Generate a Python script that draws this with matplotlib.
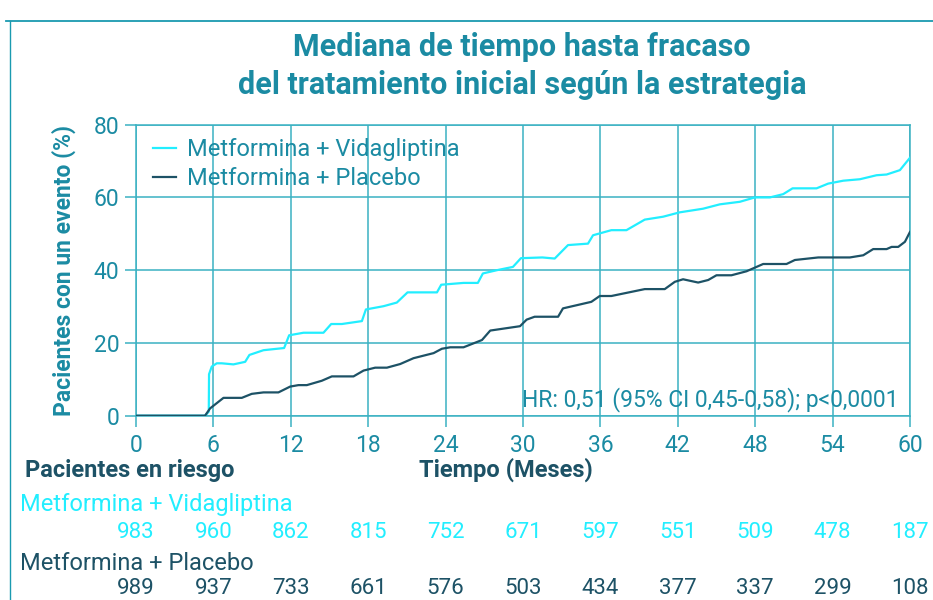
import matplotlib
matplotlib.use('Agg')
import matplotlib.pyplot as plt
import matplotlib.transforms as mtransforms
from matplotlib.lines import Line2D

plt.rcParams['font.family'] = ['Roboto', 'DejaVu Sans']

# Curve data (months, % with an event)
vida_t = [0, 5.35, 5.64, 5.66, 5.87, 6.26, 6.65, 7.55, 8.46, 8.79, 9.88, 11.48, 11.87, 12.98, 14.53,
          15.13, 15.96, 17.51, 17.82, 19.19, 20.22, 21.05, 23.33, 23.66, 25.39, 26.5, 26.89, 27.98,
          29.22, 29.84, 31.5, 32.46, 33.49, 35.04, 35.43, 36.85, 38.02, 39.44, 40.86, 42.15, 43.96,
          45.26, 46.81, 47.97, 49.14, 50.17, 50.9, 52.76, 53.66, 54.83, 56.12, 57.41, 58.19, 59.22, 60]
vida_y = [0, 0, 1.1, 11.4, 13.5, 14.4, 14.4, 14.1, 14.8, 16.7, 18.0, 18.6, 22.1, 22.8, 22.8,
          25.2, 25.2, 26.0, 29.2, 30.1, 31.1, 33.9, 33.9, 36.0, 36.5, 36.5, 39.1, 40.0,
          40.9, 43.3, 43.5, 43.2, 46.9, 47.3, 49.6, 51.0, 51.0, 53.9, 54.7, 55.9, 56.9,
          58.1, 58.8, 60.0, 60.0, 60.9, 62.5, 62.5, 63.8, 64.6, 65.0, 66.1, 66.3, 67.5, 70.9]

plac_t = [0, 5.35, 5.74, 6.78, 8.2, 8.97, 9.88, 11.04, 11.95, 12.59, 13.24, 14.4, 15.18, 16.86,
          17.64, 18.54, 19.45, 20.48, 21.51, 23.07, 23.71, 24.36, 25.39, 26.82, 27.46, 29.77,
          30.28, 30.9, 32.72, 33.1, 35.3, 35.95, 36.85, 39.44, 40.99, 41.77, 42.41, 43.58, 44.36,
          45.0, 46.16, 47.33, 48.62, 50.43, 51.08, 52.89, 55.34, 56.38, 57.15, 58.19, 58.58,
          59.09, 59.61, 60]
plac_y = [0, 0, 2.0, 4.9, 4.9, 6.0, 6.4, 6.4, 8.0, 8.4, 8.4, 9.6, 10.8, 10.8,
          12.4, 13.2, 13.2, 14.2, 15.8, 17.2, 18.4, 18.8, 18.8, 20.8, 23.4, 24.6,
          26.4, 27.2, 27.2, 29.5, 31.3, 32.9, 32.9, 34.8, 34.8, 36.8, 37.5, 36.6, 37.3,
          38.6, 38.6, 39.7, 41.7, 41.7, 42.8, 43.5, 43.5, 44.1, 45.8, 45.8, 46.4,
          46.4, 47.8, 50.5]

# Risk table
risk_times = [0, 6, 12, 18, 24, 30, 36, 42, 48, 54, 60]
risk_vida = [983, 960, 862, 815, 752, 671, 597, 551, 509, 478, 187]
risk_plac = [989, 937, 733, 661, 576, 503, 434, 377, 337, 299, 108]

label_vida = 'Metformina + Vidagliptina'
label_plac = 'Metformina + Placebo'

CYAN = '#22eeff'
DARK = '#1d5266'
TEAL = '#1b8ba3'
GRID = '#3ab2c2'

fig = plt.figure(figsize=(9.33, 6), dpi=100)
ax = fig.add_axes([0.1458, 0.3072, 0.9753 - 0.1458, 0.7922 - 0.3072])

ax.plot(vida_t, vida_y, color=CYAN, lw=1.6, label=label_vida, zorder=3)
ax.plot(plac_t, plac_y, color=DARK, lw=1.6, label=label_plac, zorder=3)

ax.set_xlim(0, 60)
ax.set_ylim(0, 80)
ax.set_xticks(risk_times)
ax.set_yticks([0, 20, 40, 60, 80])
ax.grid(True, color=GRID, lw=1.1)
ax.set_axisbelow(True)
for s in ax.spines.values():
    s.set_color(GRID)
    s.set_linewidth(1.1)
ax.tick_params(direction='out', length=8, width=1.1, color=GRID, labelcolor=TEAL,
               labelsize=16.5)
ax.tick_params(axis='x', pad=5)
ax.tick_params(axis='y', pad=4)

ax.set_ylabel('Pacientes con un evento (%)', color=TEAL, fontsize=16.5,
              fontweight='bold', labelpad=13)

ax.text(0.985, 0.055, 'HR: 0,51 (95% CI 0,45-0,58); p<0,0001', transform=ax.transAxes,
        ha='right', va='center', color=TEAL, fontsize=16.5)

leg = ax.legend(loc='upper left', frameon=False, fontsize=17, handlelength=1.0,
                handletextpad=0.45, labelspacing=0.25, borderaxespad=0.3,
                bbox_to_anchor=(0.0, 1.01))
for t in leg.get_texts():
    t.set_color(TEAL)

fig.text(522 / 933, 1 - 66 / 600, 'Mediana de tiempo hasta fracaso\ndel tratamiento inicial según la estrategia',
         ha='center', va='center', color=TEAL, fontsize=22, fontweight='bold', linespacing=1.3)

# Risk table, x positions from the axis scale
blend = mtransforms.blended_transform_factory(ax.transData, fig.transFigure)
fig.text(0.027, 1 - 470 / 600, 'Pacientes en riesgo', ha='left', va='center', color=DARK,
         fontsize=17, fontweight='bold')
fig.text(506 / 933, 1 - 470 / 600, 'Tiempo (Meses)', ha='center', va='center', color=DARK,
         fontsize=17, fontweight='bold')
fig.text(0.021, 1 - 505 / 600, label_vida, ha='left', va='center', color=CYAN, fontsize=17)
fig.text(0.021, 1 - 563 / 600, label_plac, ha='left', va='center', color=DARK, fontsize=17)
for t, a, b in zip(risk_times, risk_vida, risk_plac):
    ax.text(t, 1 - 532 / 600, str(a), transform=blend, ha='center', va='center',
            color=CYAN, fontsize=16)
    ax.text(t, 1 - 588 / 600, str(b), transform=blend, ha='center', va='center',
            color=DARK, fontsize=16)

# Frame lines of the panel
fig.add_artist(Line2D([6 / 933, 1], [1 - 20.5 / 600] * 2, color='#1a9ab0', lw=1.3))
fig.add_artist(Line2D([10 / 933] * 2, [0, 1 - 20.5 / 600], color='#1a9ab0', lw=1.0))

fig.savefig('out.png', dpi=100)
